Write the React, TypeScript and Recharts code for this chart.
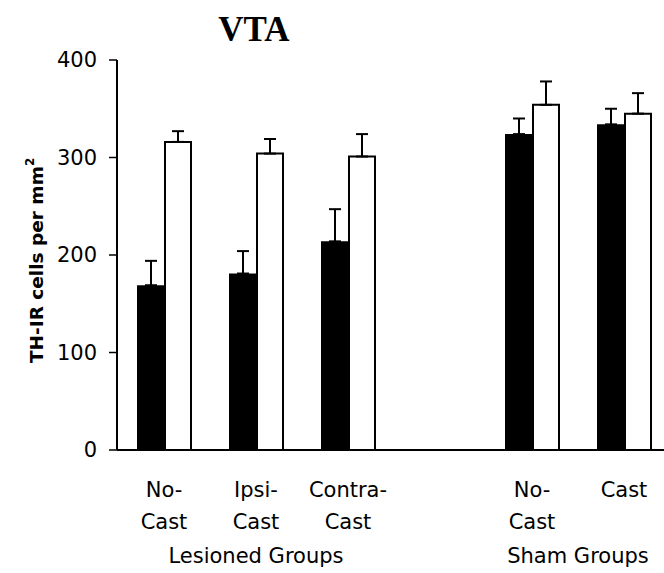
import React from 'react';
import { BarChart, Bar, XAxis, YAxis, ErrorBar } from 'recharts';

// Two bars per group: filled (black) and open (white); errors are upward SEM only.
const categoryLines: string[][] = [
  ['No-', 'Cast'],
  ['Ipsi-', 'Cast'],
  ['Contra-', 'Cast'],
  [],
  ['No-', 'Cast'],
  ['Cast'],
];
const filledMeans = [169, 181, 214, null, 324, 334];
const filledErrors = [25, 23, 33, null, 16, 16];
const openMeans = [316, 304, 301, null, 354, 345];
const openErrors = [11, 15, 23, null, 24, 21];
const yTicks = [0, 100, 200, 300, 400];
const groupLabels = [
  { label: 'Lesioned Groups', first: 0, last: 2 },
  { label: 'Sham Groups', first: 4, last: 5 },
];

const FONT = '"DejaVu Sans", Verdana, sans-serif';

const data = categoryLines.map((lines, i) => ({
  slot: i,
  filled: filledMeans[i] ?? undefined,
  filledErr: filledErrors[i] == null ? undefined : [0, filledErrors[i]],
  open: openMeans[i] ?? undefined,
  openErr: openErrors[i] == null ? undefined : [0, openErrors[i]],
}));

const groupTicks = groupLabels.map((g) => (g.first + g.last + 1) / 2);

const CategoryTick = (props: any) => {
  const { x, y, payload } = props;
  const lines = categoryLines[payload.value] || [];
  return (
    <text x={x} y={y} textAnchor="middle" fontFamily={FONT} fontSize={21} fill="#000">
      {lines.map((line, i) => (
        <tspan key={i} x={x} y={y + 47 + i * 32}>
          {line}
        </tspan>
      ))}
    </text>
  );
};

const GroupTick = (props: any) => {
  const { x, y, payload } = props;
  const g = groupLabels[groupTicks.indexOf(payload.value)];
  if (!g) return null;
  return (
    <text x={x} y={y + 23} textAnchor="middle" fontFamily={FONT} fontSize={21} fill="#000">
      {g.label}
    </text>
  );
};

const YTitle = () => (
  <text
    transform="translate(43, 363) rotate(-90)"
    fontFamily={FONT}
    fontWeight="bold"
    fontSize={18.5}
    fill="#000"
  >
    TH-IR cells per mm
    <tspan dy={-9} fontSize={12}>
      2
    </tspan>
  </text>
);

export default function App() {
  return (
    <div style={{ position: 'absolute', left: 0, top: 0, width: 664, height: 573, overflow: 'hidden', background: '#fff' }}>
      <div
        style={{
          position: 'absolute',
          left: 154,
          top: 12,
          width: 200,
          textAlign: 'center',
          fontFamily: '"Liberation Serif", "Times New Roman", serif',
          fontWeight: 'bold',
          fontSize: 35,
          lineHeight: '35px',
        }}
      >
        VTA
      </div>
      <BarChart
        width={670}
        height={573}
        data={data}
        margin={{ top: 60, right: 0, bottom: 0, left: 0 }}
        barGap={0}
      >
        <XAxis
          dataKey="slot"
          type="category"
          interval={0}
          height={90}
          padding={{ left: 1, right: 0 }}
          axisLine={{ stroke: '#000', strokeWidth: 2 }}
          tickLine={false}
          tickSize={0}
          tickMargin={0}
          tick={<CategoryTick />}
        />
        <XAxis
          xAxisId="groups"
          dataKey="slot"
          type="number"
          domain={[0, 6]}
          ticks={groupTicks}
          height={33}
          padding={{ left: 1, right: 0 }}
          axisLine={false}
          tickLine={false}
          tickSize={0}
          tickMargin={0}
          tick={<GroupTick />}
        />
        <YAxis
          width={117}
          domain={[0, 400]}
          ticks={yTicks}
          interval={0}
          tickSize={8}
          tickMargin={12}
          axisLine={{ stroke: '#000', strokeWidth: 2 }}
          tickLine={{ stroke: '#000', strokeWidth: 1.5 }}
          tick={{ fill: '#000', fontSize: 21, fontFamily: FONT }}
          label={<YTitle />}
        />
        <Bar dataKey="filled" fill="#000" barSize={28} isAnimationActive={false}>
          <ErrorBar dataKey="filledErr" direction="y" width={6} stroke="#000" strokeWidth={2} isAnimationActive={false} />
        </Bar>
        <Bar dataKey="open" fill="#fff" stroke="#000" strokeWidth={2} barSize={26} isAnimationActive={false}>
          <ErrorBar dataKey="openErr" direction="y" width={6} stroke="#000" strokeWidth={2} isAnimationActive={false} />
        </Bar>
      </BarChart>
    </div>
  );
}
